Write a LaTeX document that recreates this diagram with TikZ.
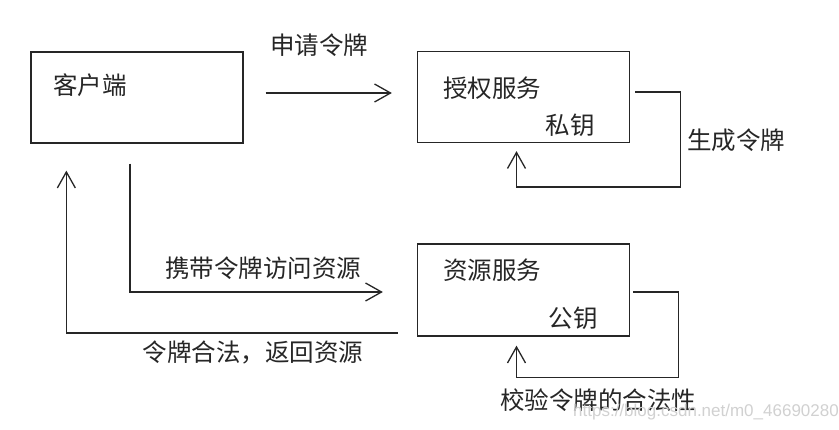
\documentclass[tikz,border=0pt]{standalone}
\usepackage{fontspec}
\newfontfamily\cjk{Noto Sans CJK SC}
\usetikzlibrary{arrows.meta, positioning, calc}

\tikzset{
  box/.style={draw=black!85, line width=1.3pt, minimum width=212pt, minimum height=91pt, inner sep=0pt},
  txt/.style={font=\cjk\fontsize{24.5}{26}\selectfont, text=black!85, inner sep=0pt},
  arr/.style={draw=black!85, line width=1.3pt, -{Straight Barb[length=16pt,width=18pt,line width=1.3pt]}}
}

\begin{document}
\begin{tikzpicture}[x=1pt, y=-1pt]
\useasboundingbox[fill=white] (0,0) rectangle (839,430);

% Boxes
\node[box] (client) at (137,97.5) {};
\node[box] (auth) at (523.5,97) {};
\node[box, minimum height=92pt] (res) at (523.5,290) {};

% Box texts
\node[txt] (clientlbl) at (90,85) {客户端};
\node[txt] (authlbl) at (492,88) {授权服务};
\node[txt] (privkey) at (570,125) {私钥};
\node[txt] (reslbl) at (492,270) {资源服务};
\node[txt] (pubkey) at (573,318) {公钥};

% Request token
\draw[arr, shorten <=22pt, shorten >=25pt] ([yshift=4.5pt]client.east) -- ([yshift=4pt]auth.west);
\node[txt] (reqlbl) at (319,45) {申请令牌};

% Generate token
\draw[arr] ([xshift=5pt,yshift=5pt]auth.east) -- ++(45,0) |- ([xshift=-7pt,yshift=-44pt]auth.south) -- ([xshift=-7pt,yshift=-8pt]auth.south);
\node[txt] (genlbl) at (736,140) {生成令牌};

% Access with token
\draw[arr] ([xshift=-7pt,yshift=-20pt]client.south) |- ([xshift=-34pt,yshift=-2pt]res.west);
\node[txt] (carrylbl) at (263,268) {携带令牌访问资源};

% Validate token
\draw[arr] ([xshift=3pt,yshift=-2pt]res.east) -- ++(45,0) |- ([xshift=-7pt,yshift=-41pt]res.south) -- ([xshift=-7pt,yshift=-9pt]res.south);
\node[txt] (checklbl) at (598,400) {校验令牌的合法性};

% Return resource
\draw[arr] ([xshift=-19pt,yshift=-43pt]res.west) -| ([xshift=36pt,yshift=-27pt]client.south west);
\node[txt] (retlbl) at (253,352) {令牌合法，返回资源};

% Watermark
\node[font=\fontspec{Liberation Sans}\fontsize{17}{19}\selectfont, text=black!18, inner sep=0pt] (mark) at (706,412) {https://blog.csdn.net/m0\_46690280};
\end{tikzpicture}
\end{document}
